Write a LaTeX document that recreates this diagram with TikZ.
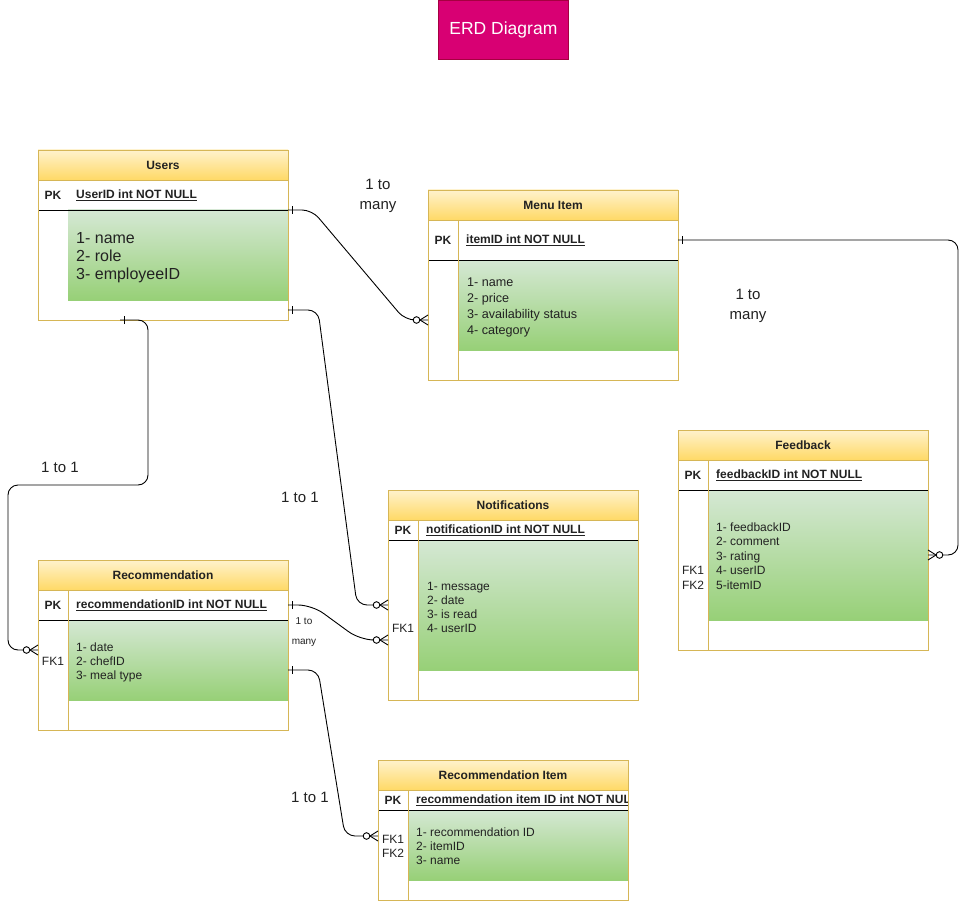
\documentclass[tikz,border=0pt]{standalone}
\usepackage{fontspec}
\setmainfont{Liberation Sans}
\usetikzlibrary{calc,decorations.markings}
\definecolor{tabline}{HTML}{D6B656}
\definecolor{hdtop}{HTML}{FFF2CC}
\definecolor{hdbot}{HTML}{FFD966}
\definecolor{grtop}{HTML}{D5E8D4}
\definecolor{grbot}{HTML}{97D077}
\definecolor{titlefill}{HTML}{D80073}
\definecolor{titleline}{HTML}{A50040}
\definecolor{txt}{HTML}{222222}
\newcommand{\fsz}[2]{\fontsize{#1}{#2}\selectfont}
\tikzset{
  frame/.style={draw=tabline, line width=0.8pt, minimum width=250pt, inner sep=0pt, outer sep=0pt},
  hdr/.style={draw=tabline, line width=0.8pt, top color=hdtop, bottom color=hdbot, minimum width=250pt, minimum height=30pt, inner sep=0pt, outer sep=0pt, font=\bfseries\fsz{12}{14}, text=txt},
  pkrow/.style={minimum width=250pt, inner sep=0pt, outer sep=0pt},
  greenbox/.style={top color=grtop, bottom color=grbot, minimum width=220pt, inner sep=0pt, outer sep=0pt},
  pklab/.style={font=\bfseries\fsz{12}{14}, text=txt, inner sep=0pt},
  keylab/.style={font=\bfseries\fsz{12}{14}, text=txt, inner sep=0pt, anchor=west},
  bodytxt/.style={font=\fsz{12}{14}, text=txt, inner sep=0pt, anchor=west, align=left},
  fklab/.style={font=\fsz{12}{14}, text=txt, inner sep=0pt, align=left},
  divider/.style={draw=tabline, line width=0.8pt},
  rel/.style={font=\fsz{15}{20}, text=txt, align=center, inner sep=0pt},
  conn/.style={draw, line width=0.9pt, rounded corners=10pt},
  onestart/.style={postaction={decorate, decoration={markings, mark=at position 0.5pt with {\draw[line width=0.9pt, sharp corners] (3.5pt,-4pt) -- (3.5pt,4pt);}}}},
  manyend/.style={postaction={decorate, decoration={markings, mark=at position 1 with {\draw[line width=0.9pt, sharp corners] (-8pt,0) -- (0,5pt) (-8pt,0) -- (0,-5pt); \draw[line width=0.9pt, fill=white] (-11.5pt,0) circle (3.3pt);}}}}
}
% #1 name, #2 x, #3 y, #4 total height, #5 pk row height, #6 green height, #7 title, #8 key
\newcommand{\erdtable}[8]{%
  \node[frame, fill=white, minimum height=#4pt, anchor=north west] (#1) at (#2,#3) {};
  \node[greenbox, minimum height=#6pt, anchor=north west] (#1-b) at (#2+30,#3+30+#5) {};
  \node[pkrow, minimum height=#5pt, anchor=north west] (#1-pk) at (#2,#3+30) {};
  \draw[line width=0.8pt] (#1-pk.south west) -- (#1-pk.south east);
  \node[hdr, anchor=north west] (#1-h) at (#2,#3) {#7};
  \node[pklab] (#1-pkl) at ($(#1-pk.west)+(15,0)$) {PK};
  \node[keylab] (#1-key) at ($(#1-pk.west)+(38,0)$) {\underline{#8}};
  \node[frame, minimum height=#4pt, anchor=north west] (#1-f) at (#2,#3) {};
}
\begin{document}
\begin{tikzpicture}[x=1pt, y=-1pt]
\useasboundingbox (0,0) rectangle (968,901);
\fill[white] (0,0) rectangle (968,901);

% title
\node[fill=titlefill, draw=titleline, line width=0.8pt, minimum width=130pt, minimum height=59pt, anchor=north west, text=white, font=\fsz{17.5}{20}, inner sep=0pt] (title) at (438,0.5) {ERD Diagram};

% Users
\erdtable{users}{38}{150}{170}{30}{90}{Users}{UserID int NOT NULL}
\node[bodytxt, font=\fsz{16}{18}] (users-t) at (76,258) {1- name\\2- role\\3- employeeID};

% Menu Item
\erdtable{mi}{428}{190}{190}{40}{90}{Menu Item}{itemID int NOT NULL}
\draw[divider] ($(mi-pk.north west)+(30,0)$) -- ($(mi.south west)+(30,0)$);
\node[bodytxt, font=\fsz{12.6}{16}] (mi-t) at (467,307) {1- name\\2- price\\3- availability status\\4- category};

% Notifications
\erdtable{no}{388}{490}{210}{20}{130}{Notifications}{notificationID int NOT NULL}
\draw[divider] ($(no-pk.north west)+(30,0)$) -- ($(no.south west)+(30,0)$);
\node[bodytxt] (no-t) at (427,607) {1- message\\2- date\\3- is read\\4- userID};
\node[fklab] (no-fk) at (403,628) {FK1};

% Feedback
\erdtable{fb}{678}{430}{220}{30}{130}{Feedback}{feedbackID int NOT NULL}
\draw[divider] ($(fb-pk.north west)+(30,0)$) -- ($(fb.south west)+(30,0)$);
\node[bodytxt, font=\fsz{12}{14.5}] (fb-t) at (716,556) {1- feedbackID\\2- comment\\3- rating\\4- userID\\5-itemID};
\node[fklab, font=\fsz{12}{14.5}] (fb-fk) at (693,578) {FK1\\FK2};

% Recommendation
\erdtable{rec}{38}{560}{170}{30}{80}{Recommendation}{recommendationID int NOT NULL}
\draw[divider] ($(rec-pk.north west)+(30,0)$) -- ($(rec.south west)+(30,0)$);
\node[bodytxt] (rec-t) at (76,662) {1- date\\2- chefID\\3- meal type};
\node[fklab] (rec-fk) at (53,661) {FK1};

% Recommendation Item
\node[frame, fill=white, minimum height=140pt, anchor=north west] (ri) at (378,760) {};
\node[greenbox, minimum height=70pt, anchor=north west] (ri-b) at (408,810) {};
\node[pkrow, minimum height=20pt, anchor=north west] (ri-pk) at (378,790) {};
\draw[line width=0.8pt] (ri-pk.south west) -- (ri-pk.south east);
\node[hdr, anchor=north west] (ri-h) at (378,760) {Recommendation Item};
\node[pklab] (ri-pkl) at ($(ri-pk.west)+(15,0)$) {PK};
\begin{scope}
  \clip (408,790) rectangle (628,810);
  \node[keylab] (ri-key) at ($(ri-pk.west)+(38,0)$) {\underline{recommendation item ID int NOT NULL}};
\end{scope}
\node[frame, minimum height=140pt, anchor=north west] (ri-f) at (378,760) {};
\draw[divider] ($(ri-pk.north west)+(30,0)$) -- ($(ri.south west)+(30,0)$);
\node[bodytxt] (ri-t) at (416,846) {1- recommendation ID\\2- itemID\\3- name};
\node[fklab] (ri-fk) at (393,846) {FK1\\FK2};

% connectors
\coordinate (c1a) at (users-pk.south east);
\coordinate (c1b) at ($(mi.north west)+(0,130)$);
\draw[conn, onestart, manyend] (c1a) -- ++(24,0) -- ($(c1b)+(-23,0)$) -- (c1b);

\coordinate (c2a) at (mi-pk.east);
\coordinate (c2b) at ($(fb.north east)+(0,125)$);
\draw[conn, onestart, manyend] (c2a) -- (958,240) -- (958,555) -- (c2b);

\coordinate (c3a) at ($(users.south east)+(0,-10)$);
\coordinate (c3b) at ($(no.north west)+(0,115)$);
\draw[conn, onestart, manyend] (c3a) -- ++(30,0) -- ($(c3b)+(-31,0)$) -- (c3b);

\coordinate (c4a) at ($(users.south west)+(82,0)$);
\coordinate (c4b) at ($(rec.north west)+(0,90)$);
\draw[conn, onestart, manyend] (c4a) -- (148,320) -- (148,485) -- (8,485) -- (8,650) -- (c4b);

\coordinate (c5a) at (rec-pk.east);
\coordinate (c5b) at ($(no.north west)+(0,150)$);
\draw[conn, rounded corners=14pt, onestart, manyend] (c5a) -- ++(24,0) -- ($(c5b)+(-28,0)$) -- (c5b);

\coordinate (c6a) at ($(rec.south east)+(0,-60)$);
\coordinate (c6b) at ($(ri.north west)+(0,76)$);
\draw[conn, onestart, manyend] (c6a) -- ++(30,0) -- ($(c6b)+(-33,0)$) -- (c6b);

% relation labels
\node[rel] (l1) at (378,196) {1 to\\many};
\node[rel] (l2) at (748,306) {1 to\\many};
\node[rel] (l3) at (60,467) {1 to 1};
\node[rel] (l4) at (300,497) {1 to 1};
\node[rel] (l5) at (310,797) {1 to 1};
\node[font=\fsz{10}{20}, text=txt, align=center, inner sep=0pt] (l6) at (304,632) {1 to\\many};
\end{tikzpicture}
\end{document}
